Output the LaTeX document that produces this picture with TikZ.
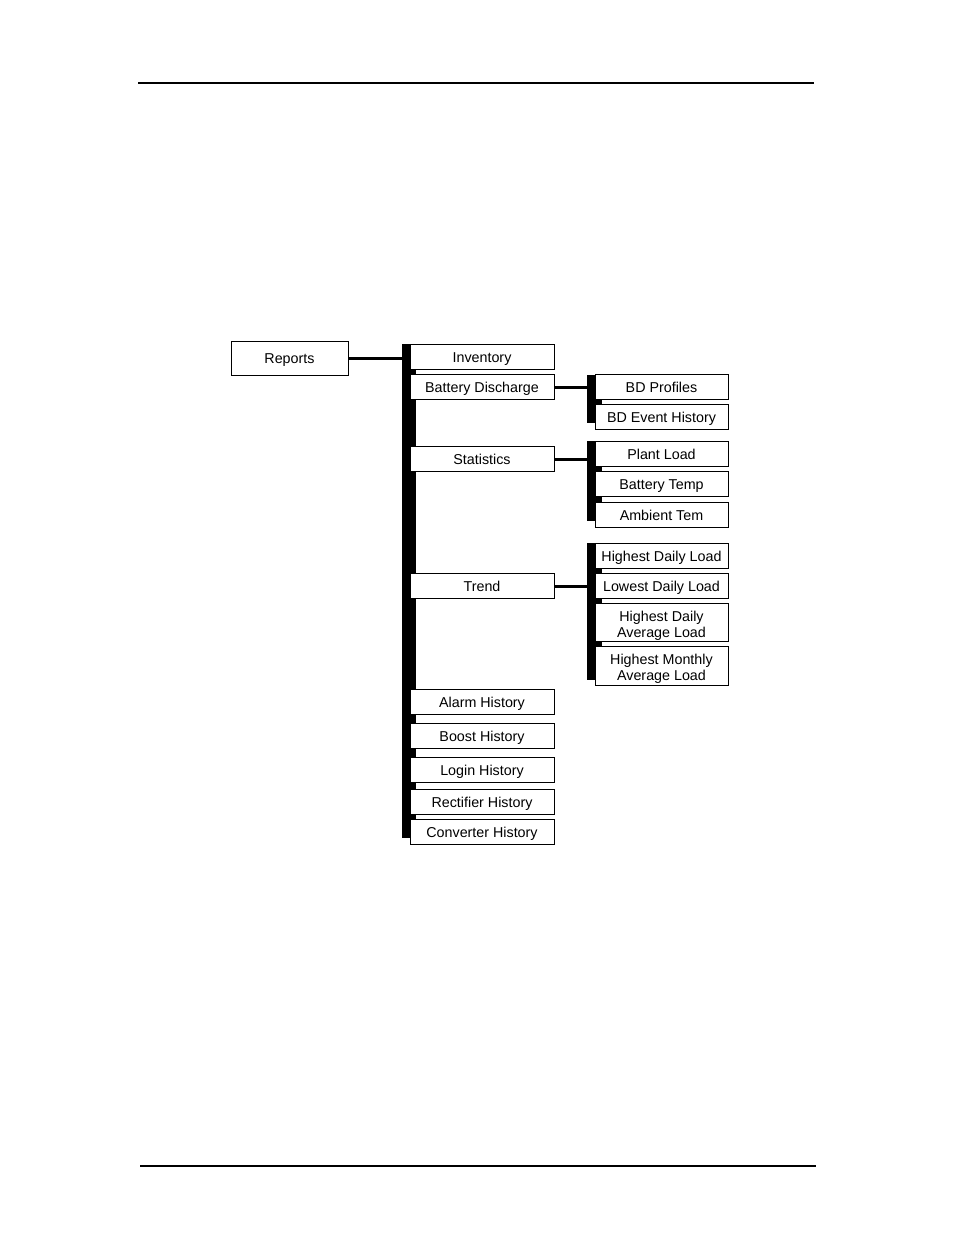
\documentclass[tikz,border=0pt]{standalone}
\usepackage{fontspec}
\setmainfont{Liberation Sans}
\begin{document}
\begin{tikzpicture}[x=1pt,y=-1pt,
  box/.style={draw=black, fill=white, line width=1, inner sep=0pt, align=center,
    font=\fontsize{14.3}{16}\selectfont, text height=11.5, text depth=0},
  c1/.style={box, minimum width=144, minimum height=25},
  c2/.style={box, minimum width=133, minimum height=25},
  two/.style={text height=30, text depth=0},
  barstyle/.style={fill=black, inner sep=0pt, draw=none},
  conn/.style={line width=3}]
\useasboundingbox (0,0) rectangle (954,1235);
\fill[white] (0,0) rectangle (954,1235);
% page rules
\coordinate (t1) at (138,83);
\coordinate (t2) at (814,83);
\coordinate (b1) at (140,1166);
\coordinate (b2) at (816,1166);
\draw[line width=2] (t1) -- (t2);
\draw[line width=1.2] (b1) -- (b2);
% bars
\node[barstyle, minimum width=14, minimum height=494] (bar) at (409,591) {};
\node[barstyle, minimum width=15, minimum height=48] (barbd) at (594.5,399) {};
\node[barstyle, minimum width=15, minimum height=80] (barst) at (594.5,481) {};
\node[barstyle, minimum width=15, minimum height=137] (bartr) at (594.5,611.5) {};
% root
\node[box, minimum width=117, minimum height=34] (rep) at (289.5,358) {Reports};
% column 1
\node[c1] (inv) at (482,356.5) {Inventory};
\node[c1] (bd) at (482,387) {Battery Discharge};
\node[c1] (st) at (482,459) {Statistics};
\node[c1] (tr) at (482,586) {Trend};
\node[c1] (al) at (482,702) {Alarm History};
\node[c1] (bo) at (482,736) {Boost History};
\node[c1] (lo) at (482,770) {Login History};
\node[c1] (re) at (482,802) {Rectifier History};
\node[c1] (co) at (482,832) {Converter History};
% column 2
\node[c2] (bdp) at (661.5,387) {BD Profiles};
\node[c2] (bde) at (661.5,417) {BD Event History};
\node[c2] (pl) at (661.5,453.5) {Plant Load};
\node[c2] (bt) at (661.5,484) {Battery Temp};
\node[c2] (am) at (661.5,515) {Ambient Tem};
\node[c2] (hdl) at (661.5,555.5) {Highest Daily Load};
\node[c2] (ldl) at (661.5,586) {Lowest Daily Load};
\node[c2, two, minimum height=38] (hda) at (661.5,622) {Highest Daily\\Average Load};
\node[c2, two, minimum height=39] (hma) at (661.5,665.5) {Highest Monthly\\Average Load};
% connectors
\draw[conn] (rep.east) -- (rep.east -| bar.west);
\draw[conn] (bd.east) -- (bd.east -| barbd.west);
\draw[conn] (st.east) -- (st.east -| barst.west);
\draw[conn] (tr.east) -- (tr.east -| bartr.west);
\end{tikzpicture}
\end{document}
